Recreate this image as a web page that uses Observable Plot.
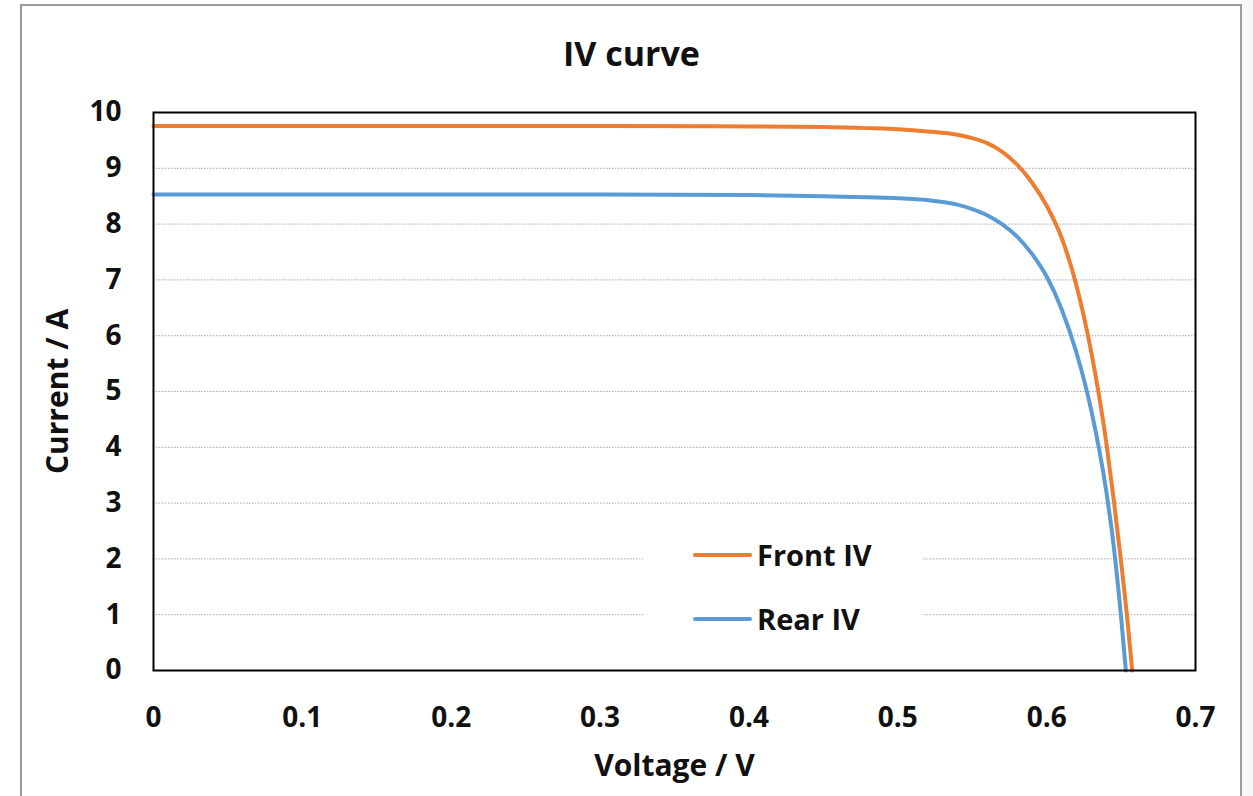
<!DOCTYPE html>
<html>
<head>
<meta charset="utf-8">
<script src="https://cdn.jsdelivr.net/npm/d3@7"></script>
<script src="https://cdn.jsdelivr.net/npm/@observablehq/plot@0.6"></script>
<style>
  html, body { margin: 0; padding: 0; background: #fff; }
  #wrap { position: relative; width: 1253px; height: 796px; overflow: hidden; font-family: "Open Sans", sans-serif; }
  #outer { position: absolute; left: 20px; top: 4px; width: 1218px; height: 820px; border: 2px solid #9a9a9a; border-bottom: none; pointer-events: none; }
  #side { position: absolute; left: 1242px; top: 0; width: 11px; height: 796px; background: #f7f7f7; }
  #legend { position: absolute; left: 643px; top: 528px; width: 279px; height: 115px; background: #fff; }
  .item { position: absolute; left: 50px; height: 40px; display: flex; align-items: center; }
  .sw { width: 59px; height: 4px; border-radius: 2px; margin-right: 5px; }
  .lab { font-family: "Open Sans", sans-serif; font-weight: 700; font-size: 29px; color: #111; line-height: 40px; }
</style>
</head>
<body>
<div id="wrap">
  <div id="side"></div>
  <div id="chart"></div>
  <div id="outer"></div>
</div>
<script>
const title = "IV curve";
const xLabel = "Voltage / V";
const yLabel = "Current / A";
const seriesNames = ["Front IV", "Rear IV"];
const seriesColors = ["#ED7D31", "#5B9BD5"];

const xTicks = [0, 0.1, 0.2, 0.3, 0.4, 0.5, 0.6, 0.7];
const yTicks = [0, 1, 2, 3, 4, 5, 6, 7, 8, 9, 10];
const gridValues = [1, 2, 3, 4, 5, 6, 7, 8, 9];

const frontV = [0, 0.1, 0.2, 0.3, 0.4, 0.45, 0.48, 0.50, 0.52, 0.54, 0.55, 0.56, 0.57, 0.58, 0.59, 0.60, 0.61, 0.62, 0.63, 0.64, 0.645, 0.65, 0.654, 0.6575];
const frontI = [9.76, 9.76, 9.76, 9.76, 9.75, 9.74, 9.72, 9.70, 9.66, 9.60, 9.54, 9.45, 9.30, 9.07, 8.75, 8.33, 7.76, 6.90, 5.70, 4.10, 3.08, 1.95, 0.98, 0];

const rearV = [0, 0.1, 0.2, 0.3, 0.4, 0.45, 0.48, 0.50, 0.52, 0.54, 0.55, 0.56, 0.57, 0.58, 0.59, 0.60, 0.61, 0.62, 0.63, 0.64, 0.645, 0.65, 0.6532];
const rearI = [8.53, 8.53, 8.53, 8.53, 8.52, 8.50, 8.48, 8.465, 8.43, 8.35, 8.27, 8.16, 8.00, 7.78, 7.47, 7.06, 6.48, 5.70, 4.66, 3.22, 2.24, 0.96, 0];

const front = frontV.map((v, i) => ({V: v, I: frontI[i]}));
const rear = rearV.map((v, i) => ({V: v, I: rearI[i]}));

const font = "'Open Sans', sans-serif";

const plot = Plot.plot({
  width: 1253,
  height: 796,
  marginLeft: 153,
  marginRight: 58,
  marginTop: 112,
  marginBottom: 126,
  style: {fontFamily: font, background: "transparent", color: "#111", overflow: "visible"},
  x: {domain: [0, 0.7]},
  y: {domain: [0, 10]},
  marks: [
    Plot.ruleY(gridValues, {stroke: "#a6a6a6", strokeWidth: 1, strokeDasharray: "1.5,1.5"}),
    Plot.line(rear, {x: "V", y: "I", stroke: seriesColors[1], strokeWidth: 4, curve: "monotone-x"}),
    Plot.line(front, {x: "V", y: "I", stroke: seriesColors[0], strokeWidth: 4, curve: "monotone-x"}),
    Plot.frame({stroke: "#000", strokeWidth: 2}),
    Plot.axisX({ticks: xTicks, tickSize: 0, tickPadding: 37, tickFormat: d => String(+d.toFixed(1)), fontSize: 28, fontWeight: 700, label: null}),
    Plot.axisY({ticks: yTicks, tickSize: 0, tickPadding: 32, tickFormat: d => String(d), fontSize: 28, fontWeight: 700, label: null}),
    Plot.text([xLabel], {frameAnchor: "bottom", dy: 96, lineAnchor: "middle", fontSize: 30, fontWeight: 700, fill: "#111"}),
    Plot.text([yLabel], {frameAnchor: "left", dx: -95, rotate: -90, lineAnchor: "middle", textAnchor: "middle", fontSize: 30, fontWeight: 700, fill: "#111"}),
    Plot.text([title], {frameAnchor: "top-left", dx: 478, dy: -57, lineAnchor: "middle", textAnchor: "middle", fontSize: 34, fontWeight: 700, fill: "#111"})
  ]
});
document.getElementById("chart").appendChild(plot);

const legend = document.createElement("div");
legend.id = "legend";
seriesNames.forEach((name, i) => {
  const item = document.createElement("div");
  item.className = "item";
  item.style.top = (i === 0 ? 7 : 71) + "px";
  const sw = document.createElement("div");
  sw.className = "sw";
  sw.style.background = seriesColors[i];
  const lab = document.createElement("span");
  lab.className = "lab";
  lab.textContent = name;
  item.appendChild(sw);
  item.appendChild(lab);
  legend.appendChild(item);
});
document.getElementById("wrap").appendChild(legend);
</script>
</body>
</html>
